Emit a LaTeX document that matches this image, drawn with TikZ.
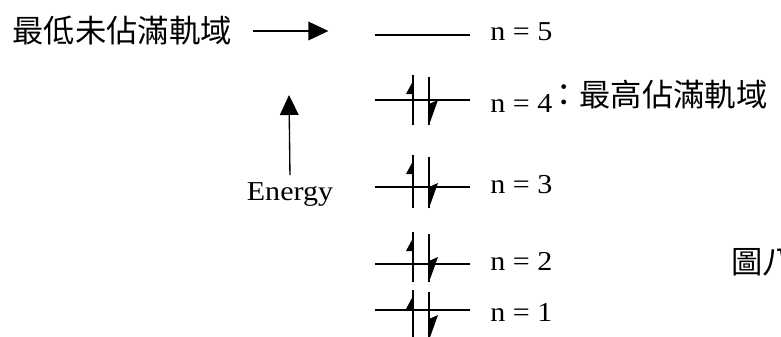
\documentclass[tikz,border=0pt]{standalone}
\usepackage{fontspec}
\setmainfont{Liberation Serif}[FakeStretch=1.1]
\newfontfamily\cjk{Noto Sans CJK TC}
\usetikzlibrary{arrows.meta,positioning}

\begin{document}
\begin{tikzpicture}[x=0.75pt,y=-0.75pt,>={Triangle[length=15pt,width=14pt]},
  level/.style={line width=1pt},
  lab/.style={anchor=base west,inner sep=0pt,font=\fontsize{20.5}{24}\selectfont},
  zh/.style={inner sep=0pt,font=\cjk\fontsize{23.5}{26}\selectfont}]
\useasboundingbox (0,0) rectangle (781,336);
% energy levels
\foreach \n/\y in {5/35,4/100,3/187,2/264,1/310}
  \draw[level] (375,\y) coordinate (w\n) -- (470,\y) coordinate (e\n);
\node[lab] (n5) at (490,40) {n = 5};
\node[lab] (n4) at (490,112) {n = 4};
\node[lab] (n3) at (490,193) {n = 3};
\node[lab] (n2) at (490,270) {n = 2};
\node[lab] (n1) at (490,321) {n = 1};
% electron pairs (top / bottom of the spin lines)
\foreach \y/\t/\b in {100/-25/25,187/-32/21,264/-32/18,310/-20/30}{
  \pgfmathsetmacro{\ya}{\y+\t}
  \pgfmathsetmacro{\yb}{\y+\b}
  \draw[level] (413,\ya) -- (413,\yb);
  \draw[level] (429,\ya+2) -- (429,\yb);
  \fill (413,\ya+6) -- (406,\ya+19) -- (413,\ya+19) -- cycle;
  \fill (429,\yb-21) -- (438,\yb-25) -- (429,\yb) -- cycle;
}
% labels
\node[zh] (lumo) at (122,31) {最低未佔滿軌域};
\node[zh,anchor=west] (homo) at (548,95) {：最高佔滿軌域};
\node[zh,anchor=west] (fig) at (731,262) {圖八};
\node[anchor=base,inner sep=3pt,font=\fontsize{20.5}{24}\selectfont] (energy) at (290,200) {Energy};
\coordinate (eTip) at (289,95);
\draw[->,line width=1pt,shorten <=2pt] (energy.north) -- (eTip);
\draw[->,line width=1pt,shorten <=16pt,shorten >=35pt] (lumo.east) -- (lumo.east -| w5);
\end{tikzpicture}
\end{document}
